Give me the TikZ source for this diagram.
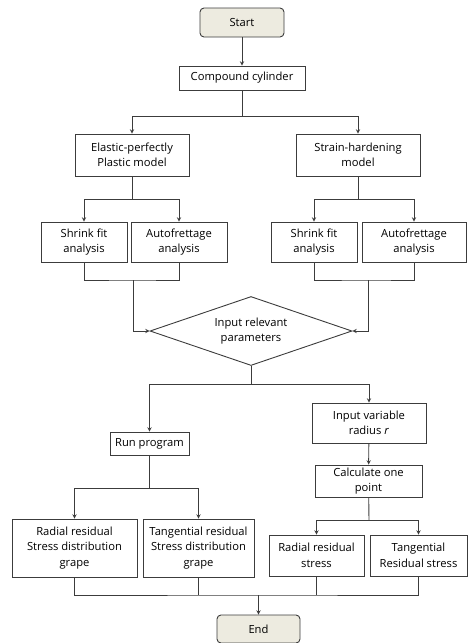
\documentclass[tikz,border=0pt]{standalone}
\usepackage{fontspec}
\setmainfont{Open Sans}
\usetikzlibrary{shapes.geometric}
\definecolor{linegray}{RGB}{60,60,60}
\definecolor{termfill}{RGB}{237,235,224}

\begin{document}
\begin{tikzpicture}[>=stealth,x=1pt,y=-1pt,
                every node/.style={font=\fontsize{11.2}{15.5}\selectfont,text=black,align=center},
                box/.style={draw=linegray,line width=0.9pt,inner sep=1pt},
                term/.style={box,rounded corners=4pt,fill=termfill},
                flow/.style={draw=linegray,line width=0.9pt}]
                \useasboundingbox (0,0) rectangle (467,643);

                \node[term,minimum width=84,minimum height=29] (start) at(242,22.5) {Start};
                \node[box,minimum width=126,minimum height=24] (comp) at(242,78) {Compound cylinder};

                \node[box,minimum width=114,minimum height=42] (elastic) at(132,155) {Elastic-perfectly\\Plastic model};
                \node[box,minimum width=124,minimum height=42] (strain) at(358,155) {Strain-hardening\\model};

                \node[box,minimum width=86,minimum height=40] (shrinkL) at(84,242) {Shrink fit\\analysis};
                \node[box,minimum width=96,minimum height=40] (autoL) at(179,242) {Autofrettage\\analysis};
                \node[box,minimum width=86,minimum height=40] (shrinkR) at(314,242) {Shrink fit\\analysis};
                \node[box,minimum width=104,minimum height=40] (autoR) at(414,242) {Autofrettage\\analysis};

                \node[box,diamond,aspect=2.93,inner sep=0pt,minimum width=202,minimum height=69] (param) at(251,331) {Input relevant\\parameters};

                \node[box,minimum width=79,minimum height=23] (run) at(149.5,443.5) {Run program};
                \node[box,minimum width=114,minimum height=40] (inputvar) at(369,423) {Input variable\\radius \textit{r}};
                \node[box,minimum width=107,minimum height=32] (calc) at(368.5,481) {Calculate one\\point};

                \node[box,minimum width=125,minimum height=58] (radL) at(74.5,548) {Radial residual\\Stress distribution\\grape};
                \node[box,minimum width=111,minimum height=58] (tanL) at(198.5,548) {Tangential residual\\Stress distribution\\grape};
                \node[box,minimum width=95,minimum height=41] (radR) at(316.5,555.5) {Radial residual\\stress};
                \node[box,minimum width=97,minimum height=41] (tanR) at(418.5,555.5) {Tangential\\Residual stress};

                \node[term,minimum width=83,minimum height=28] (end) at(258.5,629) {End};

                \coordinate (j1) at(242,116);
                \coordinate (j2) at(132,199);
                \coordinate (j3) at(358,199);
                \coordinate (m1) at(133,280);
                \coordinate (m2) at(368,280);
                \coordinate (j5) at(251,384);
                \coordinate (j6) at(369,520);
                \coordinate (j7) at(149.5,488);
                \coordinate (j8) at(258.5,595);

                \draw[flow,->] (start) -- (comp);
                \draw[flow] (comp) -- (j1);
                \draw[flow,->] (j1) -| (elastic);
                \draw[flow,->] (j1) -| (strain);

                \draw[flow] (elastic) -- (j2);
                \draw[flow,->] (j2) -| (shrinkL);
                \draw[flow,->] (j2) -| (autoL);
                \draw[flow] (strain) -- (j3);
                \draw[flow,->] (j3) -| (shrinkR);
                \draw[flow,->] (j3) -| (autoR);

                \draw[flow] (shrinkL) |- (m1) -| (autoL);
                \draw[flow,->] (m1) |- (param.west);
                \draw[flow] (shrinkR) |- (m2) -| (autoR);
                \draw[flow,->] (m2) |- (param.east);

                \draw[flow] (param) -- (j5);
                \draw[flow,->] (j5) -| (run);
                \draw[flow,->] (j5) -| (inputvar);

                \draw[flow,->] (inputvar) -- (calc);
                \draw[flow] (calc) -- (j6);
                \draw[flow,->] (j6) -| (radR);
                \draw[flow,->] (j6) -| (tanR);

                \draw[flow] (run) -- (j7);
                \draw[flow,->] (j7) -| (radL);
                \draw[flow,->] (j7) -| (tanL);

                \draw[flow] (radL) |- (j8) -| (tanR);
                \draw[flow] (tanL) -- (tanL |- j8);
                \draw[flow] (radR) -- (radR |- j8);
                \draw[flow,->] (j8) -- (end);
            \end{tikzpicture}
\end{document}
